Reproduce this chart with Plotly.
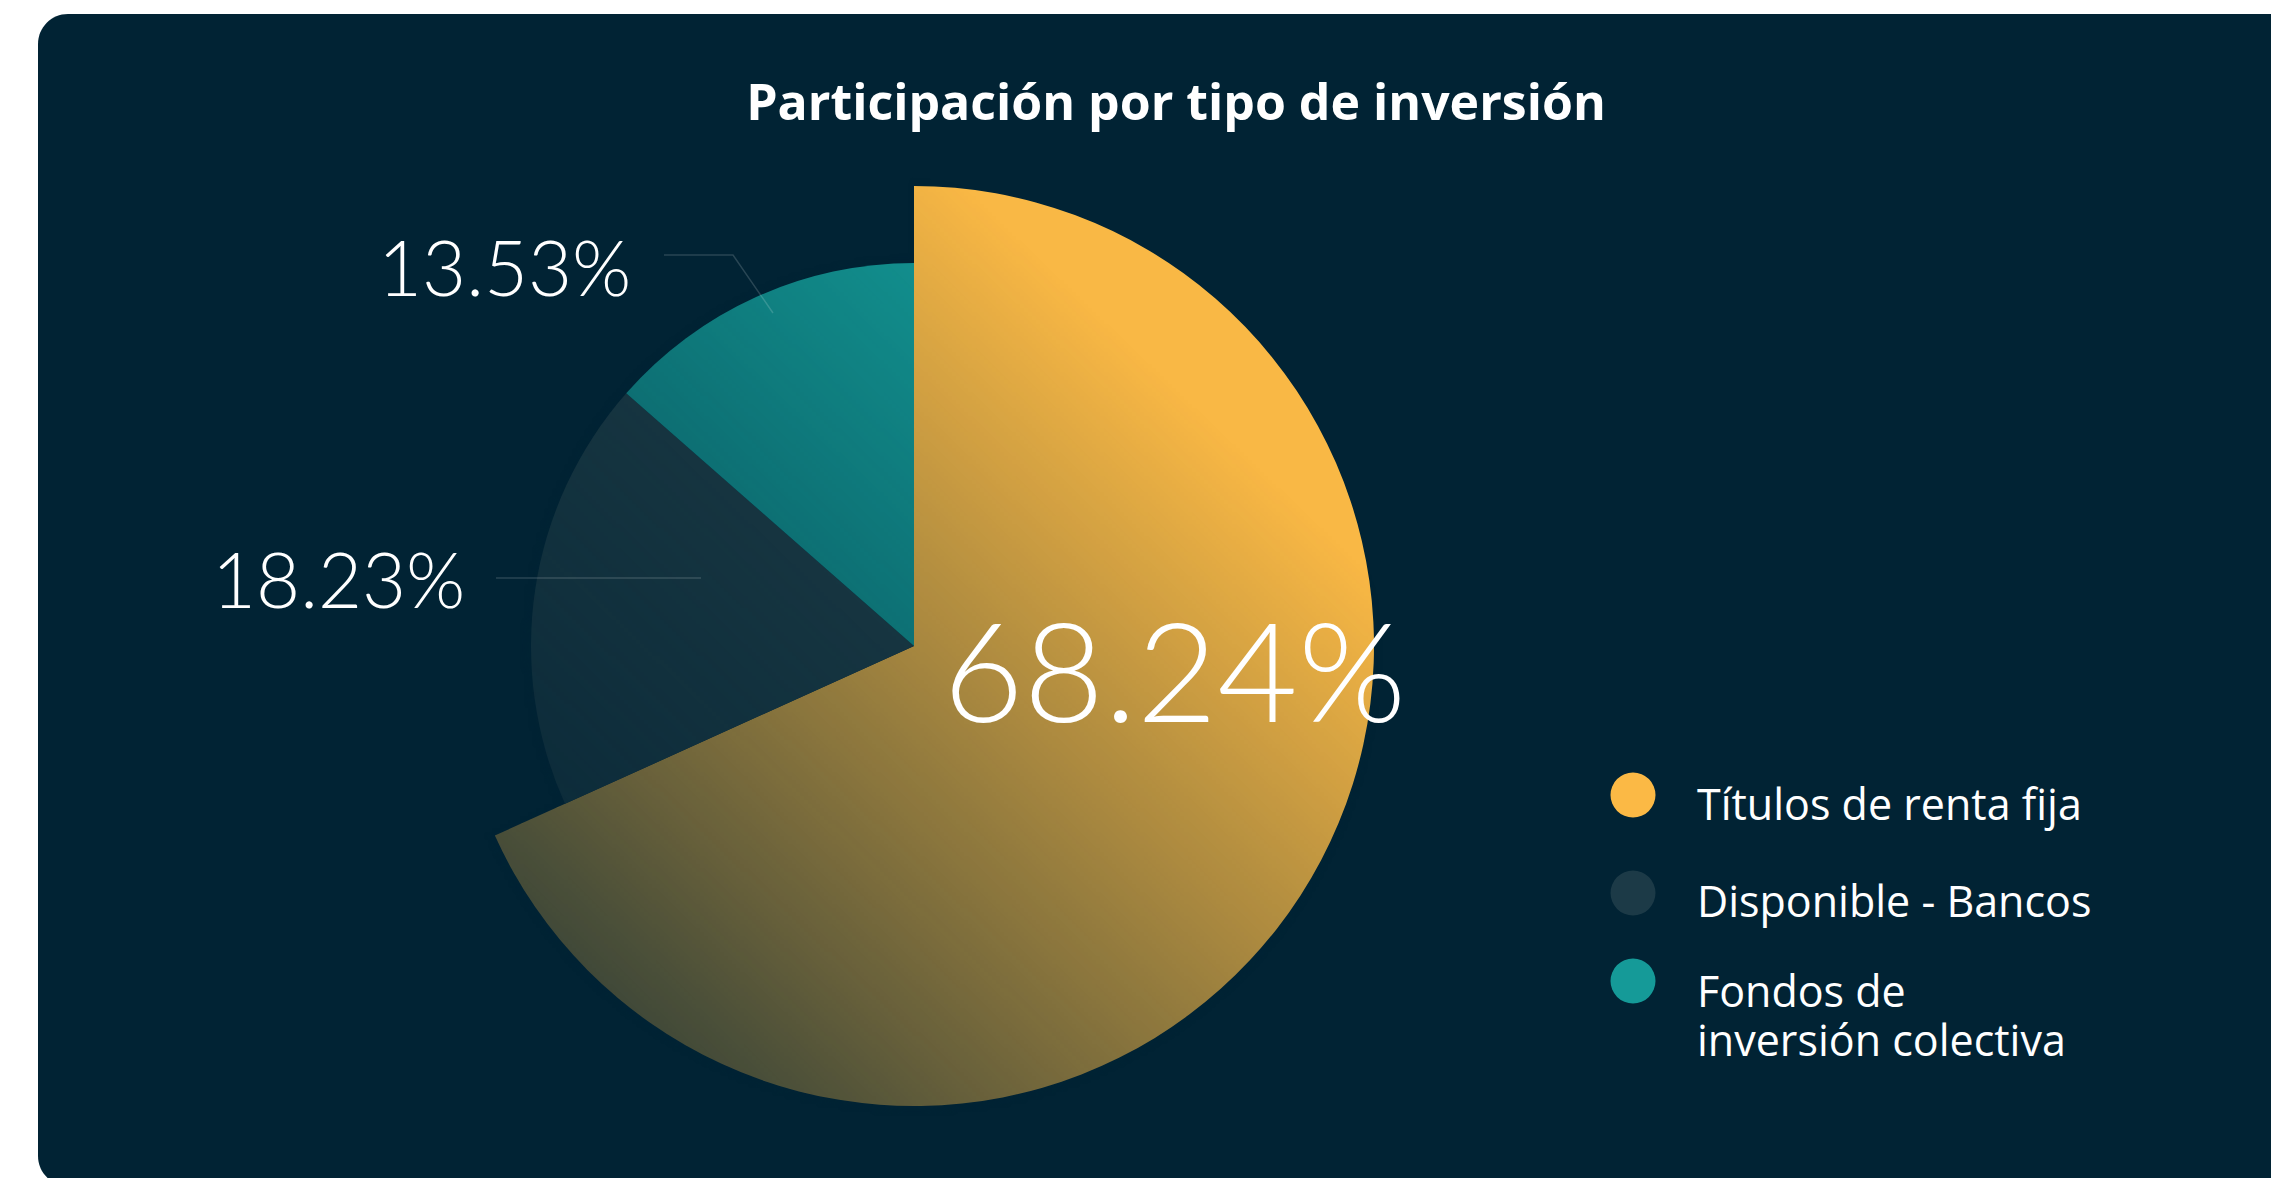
import base64
import struct
import zlib

import numpy as np
import plotly.graph_objects as go

# ---------------- data ----------------
categories = ["Títulos de renta fija", "Disponible - Bancos", "Fondos de inversión colectiva"]
legend_labels = ["Títulos de renta fija", "Disponible - Bancos", "Fondos de<br>inversión colectiva"]
shares = [68.24, 18.23, 13.53]
title_text = "Participación por tipo de inversión"

# ---------------- styles ----------------
W, H = 2271, 1178
BG = "#012334"
slice_colors = ["#F9B845", "#223E47", "#149895"]
legend_colors = ["#FBB945", "#1C3A47", "#159A98"]
TRANSPARENT = "rgba(0,0,0,0)"

CX, CY = 914, 646           # pie centre (px)
R_BIG, R_SMALL = 460, 383   # radius of main slice / other slices (px)


def px(x):
    return x / W


def py(y):
    return 1 - y / H


def domain(r):
    return dict(x=[px(CX - r), px(CX + r)], y=[py(CY + r), py(CY - r)])


def png_uri(arr):
    h, w, _ = arr.shape
    raw = b"".join(b"\x00" + arr[i].tobytes() for i in range(h))

    def chunk(tag, data):
        c = struct.pack(">I", len(data)) + tag + data
        return c + struct.pack(">I", zlib.crc32(tag + data) & 0xFFFFFFFF)

    png = (b"\x89PNG\r\n\x1a\n"
           + chunk(b"IHDR", struct.pack(">IIBBBBB", w, h, 8, 6, 0, 0, 0))
           + chunk(b"IDAT", zlib.compress(raw, 9))
           + chunk(b"IEND", b""))
    return "data:image/png;base64," + base64.b64encode(png).decode()


# shading overlay (background colour, transparent top-right -> dense bottom-left),
# limited to the pie footprint so it never tints the card itself
N = 240
HALF = R_BIG + 20
span = 2 * HALF
t = (np.arange(N) + 0.5) / N * span - HALF
dx, dy = np.meshgrid(t, t)
alpha = np.clip(0.335 - 0.000624 * dx + 0.000654 * dy, 0, 0.85)
rr = np.hypot(dx, dy)
ang = np.degrees(np.arctan2(dx, -dy)) % 360
first_end = 360 * shares[0] / sum(shares)
in_first = (ang <= first_end + 0.5) | (ang >= 359.5)
limit = np.where(in_first, R_BIG, R_SMALL)
alpha *= np.clip((limit + 8 - rr) / 6, 0, 1)
bg_rgb = tuple(int(BG[i:i + 2], 16) for i in (1, 3, 5))
img = np.zeros((N, N, 4), dtype=np.uint8)
img[..., 0], img[..., 1], img[..., 2] = bg_rgb
img[..., 3] = (alpha * 255).round().astype(np.uint8)
shade_uri = png_uri(img)

fig = go.Figure()

# main (larger) slice
fig.add_trace(go.Pie(
    labels=categories, values=shares, sort=False, direction="clockwise", rotation=0,
    domain=domain(R_BIG), textinfo="none", textposition="none", showlegend=False,
    marker=dict(colors=[slice_colors[0], TRANSPARENT, TRANSPARENT], line=dict(width=0)),
    hovertemplate="%{label}: %{value:.2f}%<extra></extra>",
))
# remaining slices
fig.add_trace(go.Pie(
    labels=categories, values=shares, sort=False, direction="clockwise", rotation=0,
    domain=domain(R_SMALL), textinfo="none", textposition="none", showlegend=False,
    marker=dict(colors=[TRANSPARENT, slice_colors[1], slice_colors[2]], line=dict(width=0)),
    hovertemplate="%{label}: %{value:.2f}%<extra></extra>",
))

shapes = []
# dark card with rounded left corners
r = 30
k = 0.5523
L, T, B, Rt = 38, 14, 1186, 2300
path = (f"M {px(L + r)},{py(T)} L {px(Rt)},{py(T)} L {px(Rt)},{py(B)} L {px(L + r)},{py(B)} "
        f"C {px(L + r - k * r)},{py(B)} {px(L)},{py(B - r + k * r)} {px(L)},{py(B - r)} "
        f"L {px(L)},{py(T + r)} "
        f"C {px(L)},{py(T + r - k * r)} {px(L + r - k * r)},{py(T)} {px(L + r)},{py(T)} Z")
shapes.append(dict(type="path", path=path, xref="paper", yref="paper",
                   fillcolor=BG, line=dict(width=0), layer="below"))

# leader lines
lead_col = "rgba(255,255,255,0.16)"
shapes.append(dict(type="path", xref="paper", yref="paper", layer="above",
                   path=f"M {px(664)},{py(255)} L {px(733)},{py(255)} L {px(773)},{py(313)}",
                   line=dict(color=lead_col, width=1.5)))
shapes.append(dict(type="path", xref="paper", yref="paper", layer="above",
                   path=f"M {px(496)},{py(578)} L {px(701)},{py(578)}",
                   line=dict(color=lead_col, width=1.5)))

# legend keys
annotations = []
legend_font = dict(family="Open Sans", size=43, color="white")
legend_dots = [795, 893, 981]
legend_text_y = [803, 901, 990]
LINE_GAP = 49
for cy_dot, cy_txt, col, lab in zip(legend_dots, legend_text_y, legend_colors, legend_labels):
    shapes.append(dict(type="circle", xref="paper", yref="paper",
                       x0=px(1633 - 22.5), x1=px(1633 + 22.5),
                       y0=py(cy_dot + 22.5), y1=py(cy_dot - 22.5),
                       fillcolor=col, line=dict(width=0), layer="above"))
    for j, line in enumerate(lab.split("<br>")):
        annotations.append(dict(text=line, x=px(1695), y=py(cy_txt + j * LINE_GAP),
                                xref="paper", yref="paper",
                                xanchor="left", yanchor="middle", align="left", showarrow=False,
                                font=legend_font))

# percentage labels
pct_pos = [(1174, 668, 139), (338, 578, 76), (505, 267, 76)]
for (x, y, s), v in zip(pct_pos, shares):
    annotations.append(dict(text=f"{v:.2f}%", x=px(x), y=py(y), xref="paper", yref="paper",
                            xanchor="center", yanchor="middle", showarrow=False,
                            font=dict(family="Lato", size=s, color="white", weight=300)))

fig.update_layout(
    width=W, height=H,
    margin=dict(l=0, r=0, t=0, b=0),
    paper_bgcolor="white", plot_bgcolor="white",
    title=dict(text=title_text, x=px(1176), xanchor="center", xref="paper",
               y=1 - 102 / H, yanchor="middle", yref="container",
               font=dict(family="Open Sans", size=50, color="white", weight="bold")),
    shapes=shapes, annotations=annotations,
    images=[dict(source=shade_uri, xref="paper", yref="paper",
                 x=px(CX - HALF), y=py(CY - HALF), sizex=span / W, sizey=span / H,
                 xanchor="left", yanchor="top", sizing="stretch", layer="above")],
    showlegend=False,
)

fig.write_html("out.html", config={"displayModeBar": False},
               post_script="document.body.style.margin='0';document.body.style.overflow='hidden';")
